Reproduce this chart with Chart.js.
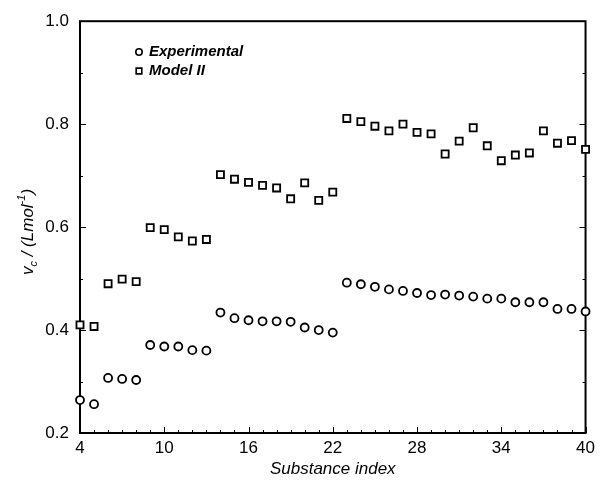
<!DOCTYPE html>
<html>
<head>
<meta charset="utf-8">
<script src="https://cdn.jsdelivr.net/npm/chart.js@4/dist/chart.umd.min.js"></script>
<style>
  body { margin: 0; background: #fff; }
  #box { width: 600px; height: 480px; }
</style>
</head>
<body>
<div id="box"><canvas id="grafico"></canvas></div>
<script>
// indices das substancias (eixo x)
var indices = [4, 5, 6, 7, 8, 9, 10, 11, 12, 13, 14, 15, 16, 17, 18, 19, 20, 21, 22,
    23, 24, 25, 26, 27, 28, 29, 30, 31, 32, 33, 34, 35, 36, 37, 38, 39, 40];

// valores experimentais de vc
var experimental = [0.264, 0.256, 0.307, 0.305, 0.303, 0.371, 0.368, 0.368, 0.361, 0.360,
    0.434, 0.423, 0.419, 0.417, 0.417, 0.416, 0.405, 0.400, 0.395,
    0.492, 0.489, 0.484, 0.479, 0.476, 0.472, 0.468, 0.469, 0.467, 0.465, 0.461,
    0.461, 0.454, 0.454, 0.454, 0.441, 0.441, 0.436];

// valores do modelo II
var modelo2 = [0.410, 0.407, 0.490, 0.499, 0.494, 0.599, 0.595, 0.581, 0.573, 0.576,
    0.702, 0.693, 0.687, 0.681, 0.676, 0.655, 0.686, 0.652, 0.668,
    0.811, 0.805, 0.796, 0.787, 0.800, 0.784, 0.781, 0.742, 0.767, 0.793, 0.758,
    0.729, 0.740, 0.744, 0.787, 0.763, 0.768, 0.751];

var nomesSeries = ['Experimental', 'Model II'];
var ticksY = [0.2, 0.4, 0.6, 0.8, 1.0];
var ticksX = [4, 10, 16, 22, 28, 34, 40];

function pontos(valores) {
    var lista = [];
    for (var i = 0; i < indices.length; i++) {
        lista.push({ x: indices[i], y: valores[i] });
    }
    return lista;
}

var fonte = '"Liberation Sans", Arial, Helvetica, sans-serif';

// moldura, marcas para dentro, legenda e titulo do eixo y
var extras = {
    id: 'extras',
    beforeDatasetsDraw: function (chart) {
        var ctx = chart.ctx;
        var a = chart.chartArea;
        var sx = chart.scales.x;
        var sy = chart.scales.y;
        ctx.save();
        ctx.strokeStyle = '#000';
        ctx.lineWidth = 1;
        var v, p, len;
        for (v = 2; v <= 10; v++) {
            p = Math.round(sy.getPixelForValue(v / 10)) + 0.5;
            len = (v % 2 === 0) ? 6 : 3;
            ctx.beginPath();
            ctx.moveTo(a.left, p); ctx.lineTo(a.left + len, p);
            ctx.moveTo(a.right, p); ctx.lineTo(a.right - len, p);
            ctx.stroke();
        }
        for (v = 4; v <= 40; v++) {
            p = Math.round(sx.getPixelForValue(v)) + 0.5;
            len = ((v - 4) % 6 === 0) ? 6 : 3;
            ctx.beginPath();
            ctx.moveTo(p, a.bottom); ctx.lineTo(p, a.bottom - len);
            ctx.stroke();
        }
        ctx.lineWidth = 2;
        ctx.strokeRect(a.left, a.top, a.right - a.left, a.bottom - a.top);
        ctx.restore();
    },
    afterDraw: function (chart) {
        var ctx = chart.ctx;
        ctx.save();
        // legenda
        var ds = chart.data.datasets;
        for (var i = 0; i < ds.length; i++) {
            var yy = 52 + i * 19;
            ctx.fillStyle = '#fff';
            ctx.strokeStyle = '#000';
            ctx.lineWidth = 1.6;
            Chart.helpers.drawPoint(ctx, {
                pointStyle: ds[i].pointStyle, radius: ds[i].pointRadius * 0.8,
                borderWidth: 1.6
            }, 139, yy);
            ctx.fillStyle = '#000';
            ctx.font = 'italic bold 15px ' + fonte;
            ctx.textBaseline = 'middle';
            ctx.fillText(ds[i].label, 149, yy);
        }
        // titulo do eixo y: v_c / (Lmol^-1)
        ctx.translate(27, 232);
        ctx.rotate(-Math.PI / 2);
        ctx.textBaseline = 'alphabetic';
        var partes = [
            { t: 'v', f: 17, dy: 0 },
            { t: 'c', f: 11, dy: 4 },
            { t: ' / (Lmol', f: 17, dy: 0 },
            { t: '-1', f: 11, dy: -8 },
            { t: ')', f: 17, dy: 0 }
        ];
        var total = 0, k;
        for (k = 0; k < partes.length; k++) {
            ctx.font = 'italic ' + partes[k].f + 'px ' + fonte;
            total += ctx.measureText(partes[k].t).width;
        }
        var xx = -total / 2;
        for (k = 0; k < partes.length; k++) {
            ctx.font = 'italic ' + partes[k].f + 'px ' + fonte;
            ctx.fillText(partes[k].t, xx, 6 + partes[k].dy);
            xx += ctx.measureText(partes[k].t).width;
        }
        ctx.restore();
    }
};

var config = {
    type: 'scatter',
    data: {
        datasets: [{
            label: nomesSeries[0],
            data: pontos(experimental),
            pointStyle: 'circle',
            pointRadius: 4,
            borderWidth: 1.8,
            borderColor: '#000',
            backgroundColor: '#fff'
        }, {
            label: nomesSeries[1],
            data: pontos(modelo2),
            pointStyle: 'rect',
            pointRadius: 5,
            borderWidth: 1.8,
            borderColor: '#000',
            backgroundColor: '#fff'
        }]
    },
    options: {
        responsive: false,
        animation: false,
        clip: false,
        layout: { padding: { left: 0, right: 11, top: 20, bottom: 0 } },
        plugins: {
            legend: { display: false },
            tooltip: { enabled: false }
        },
        scales: {
            x: {
                type: 'linear',
                min: 4,
                max: 40,
                afterBuildTicks: function (s) {
                    s.ticks = ticksX.map(function (v) { return { value: v }; });
                },
                afterFit: function (s) { s.height = 47; },
                grid: { display: false, drawTicks: false },
                border: { display: false },
                ticks: {
                    color: '#000',
                    padding: 5,
                    autoSkip: false,
                    maxRotation: 0,
                    font: { family: fonte, size: 17 },
                    callback: function (v) { return String(v); }
                },
                title: {
                    display: true,
                    text: 'Substance index',
                    color: '#000',
                    padding: { top: 0, bottom: 1 },
                    font: { family: fonte, size: 17, style: 'italic' }
                }
            },
            y: {
                type: 'linear',
                min: 0.2,
                max: 1.0,
                afterBuildTicks: function (s) {
                    s.ticks = ticksY.map(function (v) { return { value: v }; });
                },
                afterFit: function (s) { s.width = 80; },
                grid: { display: false, drawTicks: false },
                border: { display: false },
                ticks: {
                    color: '#000',
                    padding: 11,
                    font: { family: fonte, size: 17 },
                    callback: function (v) { return v.toFixed(1); }
                }
            }
        }
    }
};

var canvas = document.getElementById('grafico');
canvas.width = 600;
canvas.height = 480;
window.grafico = new Chart(canvas.getContext('2d'), Object.assign(config, { plugins: [extras] }));
</script>
</body>
</html>
